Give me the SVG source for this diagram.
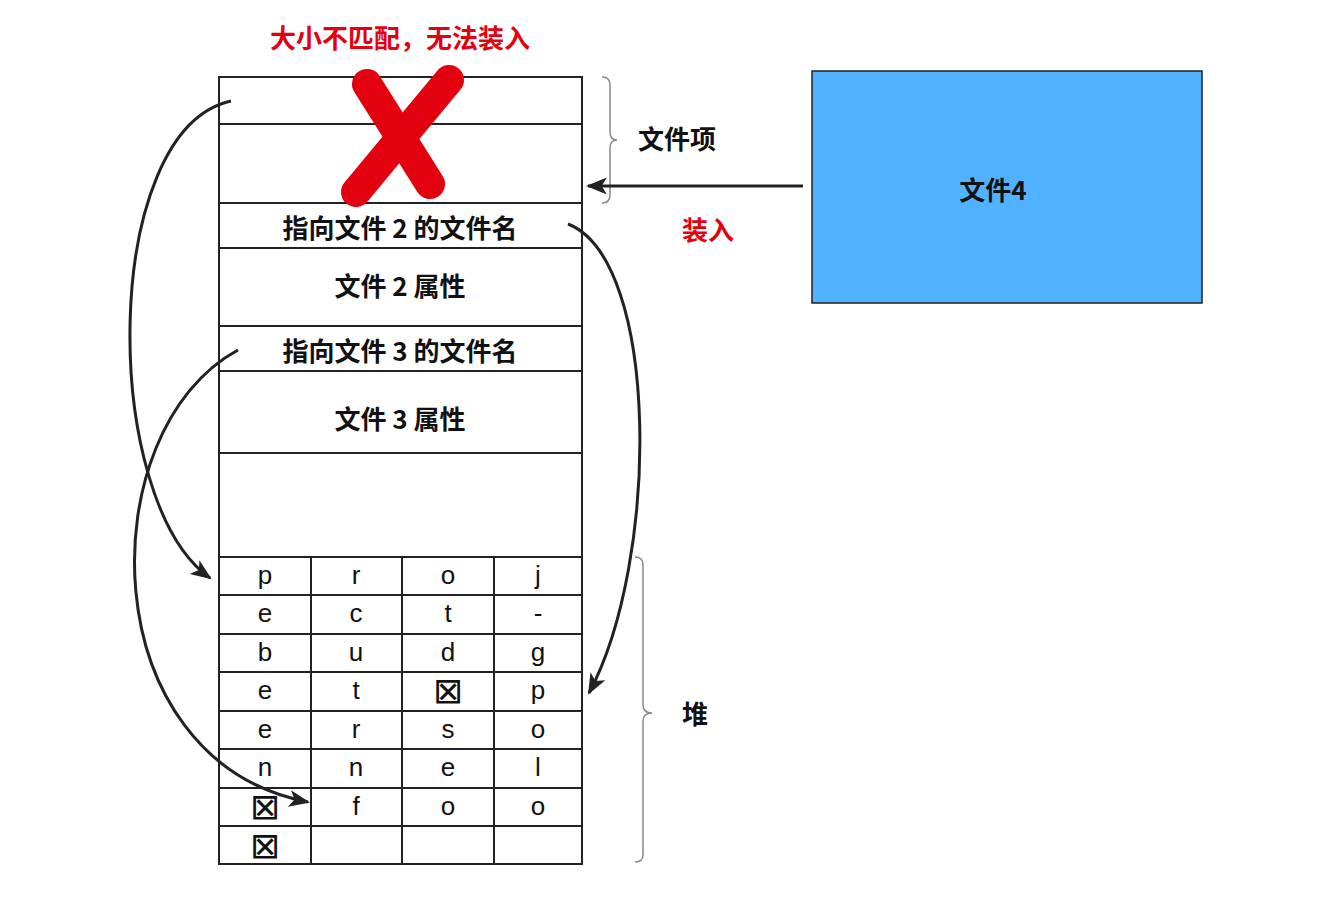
<svg xmlns="http://www.w3.org/2000/svg" width="1338" height="908" viewBox="0 0 1338 908">
<defs>
<style>
.ln{stroke:#222;stroke-width:2;fill:none}
.cjk{font-family:"Noto Sans CJK SC","Noto Sans",sans-serif;font-weight:bold;font-size:26px;text-anchor:middle;dominant-baseline:central;fill:#111}
.red{fill:#e3000f}
.let{font-family:"Liberation Sans",Arial,sans-serif;font-size:26px;text-anchor:middle;fill:#111}
.sym{font-family:"DejaVu Sans",sans-serif;font-size:36px;text-anchor:middle;dominant-baseline:central;fill:#111}
.brace{stroke:#888;stroke-width:1.5;fill:none}
.conn{stroke:#222;stroke-width:3;fill:none}
</style>
<marker id="ah" viewBox="0 0 20 20" refX="18" refY="10" markerWidth="7" markerHeight="7" markerUnits="strokeWidth" orient="auto">
<path d="M0,2 L20,10 L0,18 L5,10 Z" fill="#222"/>
</marker>
</defs>
<rect width="1338" height="908" fill="#fff"/>

<g id="title">
<text class="cjk red" x="400" y="36">大小不匹配，无法装入</text>
</g>

<g id="file-table">
<rect class="ln" x="219" y="77" width="363" height="787"/>
<line class="ln" x1="219" y1="124" x2="582" y2="124"/>
<line class="ln" x1="219" y1="203" x2="582" y2="203"/>
<line class="ln" x1="219" y1="248" x2="582" y2="248"/>
<line class="ln" x1="219" y1="326" x2="582" y2="326"/>
<line class="ln" x1="219" y1="371" x2="582" y2="371"/>
<line class="ln" x1="219" y1="453" x2="582" y2="453"/>
<text class="cjk" x="400" y="226">指向文件 2 的文件名</text>
<text class="cjk" x="400" y="284">文件 2 属性</text>
<text class="cjk" x="400" y="349">指向文件 3 的文件名</text>
<text class="cjk" x="400" y="417">文件 3 属性</text>
</g>

<g id="heap-grid">
<line class="ln" x1="219" y1="557" x2="582" y2="557"/>
<line class="ln" x1="219" y1="595" x2="582" y2="595"/>
<line class="ln" x1="219" y1="634" x2="582" y2="634"/>
<line class="ln" x1="219" y1="672" x2="582" y2="672"/>
<line class="ln" x1="219" y1="711" x2="582" y2="711"/>
<line class="ln" x1="219" y1="749" x2="582" y2="749"/>
<line class="ln" x1="219" y1="788" x2="582" y2="788"/>
<line class="ln" x1="219" y1="826" x2="582" y2="826"/>
<line class="ln" x1="311" y1="557" x2="311" y2="864"/>
<line class="ln" x1="402" y1="557" x2="402" y2="864"/>
<line class="ln" x1="494" y1="557" x2="494" y2="864"/>
<text class="let" x="265" y="584">p</text><text class="let" x="356" y="584">r</text><text class="let" x="448" y="584">o</text><text class="let" x="538" y="584">j</text>
<text class="let" x="265" y="622">e</text><text class="let" x="356" y="622">c</text><text class="let" x="448" y="622">t</text><text class="let" x="538" y="622">-</text>
<text class="let" x="265" y="661">b</text><text class="let" x="356" y="661">u</text><text class="let" x="448" y="661">d</text><text class="let" x="538" y="661">g</text>
<text class="let" x="265" y="699">e</text><text class="let" x="356" y="699">t</text><text class="sym" x="448" y="690">⊠</text><text class="let" x="538" y="699">p</text>
<text class="let" x="265" y="738">e</text><text class="let" x="356" y="738">r</text><text class="let" x="448" y="738">s</text><text class="let" x="538" y="738">o</text>
<text class="let" x="265" y="776">n</text><text class="let" x="356" y="776">n</text><text class="let" x="448" y="776">e</text><text class="let" x="538" y="776">l</text>
<text class="sym" x="265" y="806">⊠</text><text class="let" x="356" y="815">f</text><text class="let" x="448" y="815">o</text><text class="let" x="538" y="815">o</text>
<text class="sym" x="265" y="845">⊠</text>
</g>

<g id="red-cross">
<line x1="367" y1="84" x2="430" y2="184" stroke="#e3000f" stroke-width="30" stroke-linecap="round"/>
<line x1="449" y1="80" x2="356" y2="192" stroke="#e3000f" stroke-width="30" stroke-linecap="round"/>
</g>

<g id="file-entry-brace">
<path class="brace" d="M602,77 Q610,77 610,85 L610,132 Q610,140 617,140 Q610,140 610,148 L610,195 Q610,203 602,203"/>
<text class="cjk" x="677" y="137">文件项</text>
</g>

<g id="heap-brace">
<path class="brace" d="M635,557 Q643,557 643,565 L643,705 Q643,713 652,713 Q643,713 643,721 L643,855 Q643,862 635,862"/>
<text class="cjk" x="695" y="712">堆</text>
</g>

<g id="file4">
<rect x="812" y="71" width="390" height="232" fill="#51b3ff" stroke="#222" stroke-width="1.5"/>
<text class="cjk" x="993" y="188">文件4</text>
</g>

<g id="load-label">
<text class="cjk red" x="708" y="228">装入</text>
</g>

<g id="connectors">
<line class="conn" x1="803" y1="186" x2="588" y2="186" stroke-width="2.5" marker-end="url(#ah)"/>
<path class="conn" d="M231,101 C100,130 100,500 210,578" marker-end="url(#ah)"/>
<path class="conn" d="M238,350 C90,430 90,760 308,802" marker-end="url(#ah)"/>
<path class="conn" d="M568,224 C660,260 660,560 589,693" marker-end="url(#ah)"/>
</g>
</svg>
